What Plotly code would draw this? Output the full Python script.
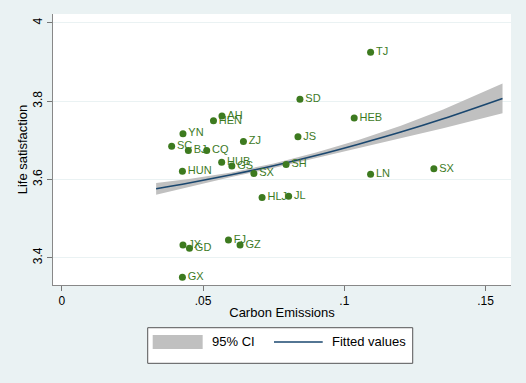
import plotly.graph_objects as go

# ---- data ----
provinces = ["AH", "HEN", "YN", "SC", "BJ", "CQ", "ZJ", "HUB", "GS", "HUN", "SX",
             "TJ", "SD", "HEB", "JS", "SH", "LN", "SX", "HLJ", "JL",
             "FJ", "GZ", "JX", "GD", "GX"]
carbon = [0.0567, 0.0537, 0.0429, 0.0389, 0.0448, 0.0513, 0.0643, 0.0566, 0.0602, 0.0427, 0.0680,
          0.1093, 0.0843, 0.1035, 0.0836, 0.0794, 0.1093, 0.1317, 0.0709, 0.0803,
          0.0590, 0.0631, 0.0429, 0.0452, 0.0427]
life_sat = [3.762, 3.750, 3.717, 3.685, 3.674, 3.674, 3.697, 3.644, 3.634, 3.621, 3.615,
            3.925, 3.805, 3.757, 3.709, 3.638, 3.613, 3.627, 3.554, 3.557,
            3.445, 3.432, 3.432, 3.424, 3.350]

fit_x = [0.0334, 0.045, 0.060, 0.075, 0.090, 0.105, 0.120, 0.135, 0.156]
fit_y = [3.576, 3.591, 3.612, 3.635, 3.661, 3.690, 3.721, 3.755, 3.807]
ci_lo = [3.561, 3.581, 3.606, 3.629, 3.653, 3.679, 3.705, 3.731, 3.769]
ci_hi = [3.591, 3.601, 3.618, 3.641, 3.669, 3.701, 3.737, 3.779, 3.845]

x_ticks = [0, 0.05, 0.1, 0.15]
x_ticklabels = ["0", ".05", ".1", ".15"]
y_ticks = [3.4, 3.6, 3.8, 4.0]
y_ticklabels = ["3.4", "3.6", "3.8", "4"]

BG = "#eaf2f3"
GREEN = "#3d7a1f"
NAVY = "#1a476f"
BAND = "#c0c0c0"
FONT = "Liberation Sans, Arial, sans-serif"

fig = go.Figure()

# 95% CI band
fig.add_trace(go.Scatter(
    x=fit_x + fit_x[::-1], y=ci_hi + ci_lo[::-1],
    fill="toself", fillcolor=BAND, line=dict(width=0),
    mode="lines", hoverinfo="skip", name="95% CI", showlegend=False))

# fitted values
fig.add_trace(go.Scatter(
    x=fit_x, y=fit_y, mode="lines", line=dict(color=NAVY, width=1.6),
    line_shape="spline", name="Fitted values", showlegend=False))

# scatter with labels
fig.add_trace(go.Scatter(
    x=carbon, y=life_sat, mode="markers+text", text=provinces,
    textposition="middle right",
    textfont=dict(color=GREEN, size=11, family=FONT),
    marker=dict(color=GREEN, size=7), showlegend=False))

fig.update_layout(
    width=526, height=383,
    margin=dict(l=53, r=15, t=14, b=98),
    paper_bgcolor=BG, plot_bgcolor="white",
    font=dict(family=FONT, size=12, color="black"),
    showlegend=False,
)

fig.update_xaxes(
    range=[-0.0031, 0.159],
    tickvals=x_ticks, ticktext=x_ticklabels,
    ticks="outside", ticklen=5, tickcolor="#777777",
    showline=True, linecolor="#888888", linewidth=1,
    showgrid=False, zeroline=False,
    tickfont=dict(size=12),
    title=dict(text="Carbon Emissions", font=dict(size=13), standoff=0),
)
fig.update_yaxes(
    range=[3.330, 4.023],
    tickvals=y_ticks, ticktext=y_ticklabels, tickangle=-90,
    ticks="outside", ticklen=5, tickcolor="#777777",
    showline=True, linecolor="#888888", linewidth=1,
    showgrid=True, gridcolor=BG, gridwidth=1, zeroline=False,
    tickfont=dict(size=12),
    title=dict(text="Life satisfaction", font=dict(size=13), standoff=0),
)

# manual Stata-style legend box
fig.add_shape(type="rect", xref="paper", yref="paper",
              x0=0.2068, x1=0.7854, y0=-0.289, y1=-0.1576,
              fillcolor="white", line=dict(color="#555555", width=1))
fig.add_shape(type="rect", xref="paper", yref="paper",
              x0=0.2177, x1=0.3268, y0=-0.2362, y1=-0.1845,
              fillcolor=BAND, line=dict(width=0))
fig.add_shape(type="line", xref="paper", yref="paper",
              x0=0.4825, x1=0.5889, y0=-0.2103, y1=-0.2103,
              line=dict(color=NAVY, width=1.6))
fig.add_annotation(xref="paper", yref="paper", x=0.3428, y=-0.2103,
                   text="95% CI", showarrow=False, xanchor="left", yanchor="middle",
                   font=dict(size=13, family=FONT))
fig.add_annotation(xref="paper", yref="paper", x=0.6048, y=-0.2103,
                   text="Fitted values", showarrow=False, xanchor="left", yanchor="middle",
                   font=dict(size=13, family=FONT))

fig.write_html("out.html",
               config={"displayModeBar": False},
               post_script="document.body.style.margin='0px';document.body.style.background='#eaf2f3';")
